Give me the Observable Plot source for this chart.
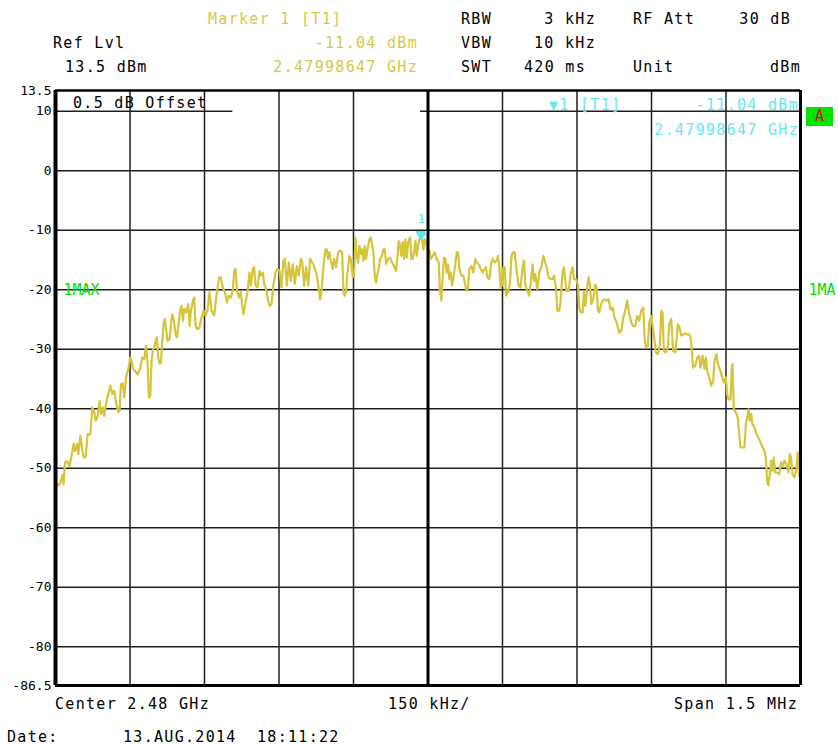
<!DOCTYPE html>
<html><head><meta charset="utf-8">
<script src="https://cdn.jsdelivr.net/npm/d3@7"></script>
<script src="https://cdn.jsdelivr.net/npm/@observablehq/plot@0.6"></script>
<style>
html,body{margin:0;padding:0;background:#fff;}
#page{position:relative;width:838px;height:746px;overflow:hidden;font-family:"DejaVu Sans Mono",monospace;}
#page svg{position:absolute;left:0;top:0;}
.t{position:absolute;white-space:pre;font-size:15px;line-height:16px;letter-spacing:1.3px;}
#abox{position:absolute;left:806px;top:107px;width:27px;height:19px;background:#00e600;color:#e00000;font-size:15px;line-height:19px;text-align:center;font-family:"DejaVu Sans Mono",monospace;}
</style></head>
<body><div id="page"></div>
<script>
// ---- data ----
const centerGHz = 2.48;
const spanKHz = 1500;
const xDomain = [-750, 750];            // offset from center, kHz
const yDomain = [-86.5, 13.5];          // dBm
const yTicks = [13.5, 10, 0, -10, -20, -30, -40, -50, -60, -70, -80, -86.5];
const vGrid = [-600, -450, -300, -150, 150, 300, 450, 600];
const hGrid = [0, -10, -20, -30, -40, -50, -60, -70, -80];
const topGridSegments = [{y: 10, x1: -750, x2: -393}, {y: 10, x1: -15, x2: 750}];
const markerFreq = [-13.53];
const markerLevel = [-11.04];
const traceLabels = ["1MAX", "1MA"];

// trace 1 (max hold): [offset kHz, level dBm]
const tracePoints = [
[-749.7,-52.1],[-745.6,-52.9],[-740.3,-52.5],[-735.6,-51.0],[-733.6,-52.7],[-730.9,-49.0],[-726.9,-48.8],[-722.2,-49.6],[-717.5,-47.9],[-713.4,-45.8],[-710.7,-47.1],[-706.7,-45.9],[-704.0,-47.6],[-700.0,-44.5],[-696.7,-46.5],[-693.3,-48.2],[-689.3,-48.1],[-685.3,-44.3],[-679.9,-44.3],[-675.9,-39.8],[-671.8,-40.6],[-669.2,-42.0],[-665.1,-41.2],[-661.1,-38.7],[-658.4,-40.9],[-654.4,-39.8],[-651.7,-41.2],[-648.4,-39.2],[-643.7,-37.5],[-639.7,-36.1],[-635.6,-37.5],[-631.6,-37.0],[-627.6,-39.2],[-623.5,-40.6],[-620.9,-40.3],[-618.2,-35.9],[-614.8,-35.7],[-611.5,-38.1],[-607.5,-34.5],[-603.4,-33.3],[-599.4,-31.4],[-596.7,-31.9],[-594.1,-33.3],[-590.0,-33.6],[-584.7,-34.2],[-579.3,-33.1],[-575.3,-31.4],[-571.3,-31.7],[-567.9,-29.4],[-564.5,-32.5],[-561.9,-38.1],[-559.2,-37.8],[-556.5,-31.9],[-553.8,-30.0],[-551.1,-29.7],[-548.5,-28.6],[-545.8,-28.0],[-543.1,-31.4],[-540.4,-32.4],[-537.7,-32.2],[-535.0,-28.6],[-532.3,-25.5],[-529.7,-24.9],[-527.0,-26.9],[-524.3,-28.6],[-520.3,-28.3],[-517.6,-25.8],[-514.9,-24.1],[-512.2,-24.9],[-508.2,-27.5],[-505.5,-28.0],[-501.5,-25.2],[-498.8,-23.2],[-496.1,-22.7],[-493.5,-25.2],[-490.8,-23.2],[-486.8,-23.8],[-482.7,-22.4],[-480.0,-26.1],[-477.4,-23.5],[-473.3,-21.9],[-470.7,-21.3],[-468.0,-26.1],[-464.0,-26.6],[-459.9,-26.3],[-455.9,-24.6],[-451.9,-23.5],
[-447.9,-24.3],[-443.9,-23.5],[-439.9,-20.4],[-435.8,-23.5],[-430.5,-24.3],[-425.1,-20.4],[-420.4,-17.9],[-417.1,-17.9],[-413.0,-19.6],[-409.0,-20.4],[-405.0,-22.1],[-401.0,-21.0],[-396.9,-21.3],[-392.9,-19.9],[-390.2,-16.8],[-387.5,-16.5],[-384.9,-19.9],[-380.8,-21.3],[-376.8,-20.4],[-374.1,-22.7],[-371.5,-24.1],[-367.4,-22.1],[-363.4,-20.4],[-359.4,-17.1],[-356.7,-19.3],[-352.7,-16.5],[-350.0,-16.2],[-347.3,-19.3],[-343.3,-19.6],[-339.3,-16.8],[-336.6,-17.6],[-332.5,-17.1],[-329.9,-19.0],[-325.8,-19.9],[-323.2,-21.3],[-319.1,-22.7],[-315.1,-22.4],[-311.1,-19.0],[-307.1,-17.1],[-303.0,-16.5],[-299.0,-16.8],[-295.0,-19.6],[-291.0,-15.1],[-288.3,-14.8],[-284.3,-19.3],[-280.2,-15.4],[-276.2,-18.5],[-272.2,-15.7],[-268.2,-19.0],[-264.1,-16.0],[-260.1,-17.6],[-256.1,-14.8],[-253.4,-15.1],[-249.4,-19.3],[-245.4,-16.2],[-241.3,-19.3],[-237.3,-14.8],[-233.3,-15.4],[-229.3,-16.0],[-225.2,-17.1],[-221.2,-19.0],[-217.2,-21.6],[-214.5,-20.4],[-210.5,-16.0],[-206.5,-13.2],[-203.8,-13.2],[-201.1,-14.8],[-198.4,-13.7],[-195.7,-15.1],[-191.7,-16.5],[-189.0,-14.8],[-185.0,-16.2],[-181.0,-13.7],[-176.9,-13.4],[-172.9,-13.7],[-170.2,-20.4],[-167.5,-21.0],[-164.9,-20.2],[-162.2,-17.1],[-158.2,-14.3],[-155.5,-14.8],[-151.5,-17.9],[-148.8,-17.6],[-146.1,-11.3],
[-143.4,-14.3],[-140.7,-15.4],[-138.1,-12.6],[-135.4,-14.0],[-132.7,-13.2],[-130.0,-15.1],[-127.3,-12.6],[-124.6,-14.8],[-122.0,-13.2],[-117.9,-11.5],[-115.3,-11.2],[-112.6,-12.3],[-109.9,-13.7],[-107.2,-17.6],[-104.5,-18.8],[-101.8,-17.4],[-99.2,-16.5],[-96.5,-14.8],[-92.5,-14.3],[-89.8,-13.2],[-87.1,-13.2],[-84.4,-15.7],[-80.4,-14.8],[-76.4,-14.6],[-72.3,-15.4],[-68.3,-16.0],[-64.3,-16.8],[-61.6,-14.6],[-58.9,-11.8],[-56.2,-12.6],[-53.6,-14.3],[-50.9,-12.0],[-48.2,-14.8],[-45.5,-11.5],[-42.8,-14.6],[-40.1,-12.0],[-36.1,-11.2],[-33.4,-14.8],[-30.7,-14.8],[-28.1,-13.7],[-25.4,-11.8],[-22.7,-14.3],[-20.0,-12.6],[-17.3,-11.5],[-13.5,-11.04],[-12.0,-11.5],[-9.3,-13.2],[-6.6,-11.5],[-3.9,-12.0],[-1.2,-13.2],[2.8,-13.4],[5.5,-14.8],[9.5,-14.3],[13.5,-13.7],[17.5,-14.8],[21.6,-15.4],[24.2,-20.4],[26.9,-21.8],[29.6,-17.6],[32.3,-14.6],[35.0,-14.8],[37.7,-17.1],[40.3,-15.7],[43.0,-18.2],[45.7,-17.1],[48.4,-19.3],[51.1,-17.9],[53.8,-16.5],[57.8,-13.7],[60.5,-13.7],[63.1,-16.5],[67.2,-17.6],[71.2,-17.6],[75.2,-19.3],[77.9,-20.2],[80.6,-19.6],[83.3,-16.5],[87.3,-16.0],[91.3,-17.1],[95.3,-14.8],[98.0,-15.4],[102.1,-15.7],[106.1,-16.5],[110.1,-17.1],[114.1,-16.5],[116.8,-16.2],[119.5,-17.9],[123.5,-18.2],[127.5,-15.4],[130.2,-14.8],[134.2,-15.4],[138.3,-15.1],[140.9,-14.3],[143.6,-16.2],[146.3,-19.6],[149.0,-19.3],[151.7,-16.2],[154.4,-16.2],[157.0,-21.0],[161.1,-20.4],[165.1,-19.0],
[167.8,-14.6],[170.4,-13.7],[174.5,-13.7],[178.5,-16.8],[182.5,-19.3],[186.5,-19.6],[190.6,-16.0],[193.3,-15.1],[195.9,-19.1],[200.0,-20.2],[204.0,-21.0],[208.0,-17.9],[210.7,-15.7],[213.4,-18.5],[216.1,-17.4],[220.1,-19.9],[224.1,-17.1],[228.1,-16.2],[232.2,-14.3],[234.8,-15.1],[238.9,-16.2],[242.9,-17.9],[246.9,-18.2],[250.9,-18.2],[253.6,-17.6],[257.6,-19.6],[260.3,-23.5],[264.3,-23.5],[267.0,-21.8],[271.1,-16.8],[273.7,-16.2],[276.4,-18.5],[279.1,-20.2],[283.1,-20.2],[287.2,-17.4],[291.2,-16.2],[293.9,-18.2],[297.9,-18.2],[301.9,-19.1],[304.6,-23.0],[307.3,-23.8],[311.3,-23.8],[314.0,-20.2],[316.7,-22.7],[320.7,-19.6],[323.4,-17.9],[326.1,-19.1],[328.7,-22.4],[332.8,-21.6],[336.8,-19.1],[339.5,-19.6],[342.1,-23.5],[344.8,-23.8],[347.5,-22.7],[351.5,-21.8],[355.6,-21.6],[359.6,-21.8],[363.6,-21.6],[367.6,-23.3],[371.7,-23.0],[375.7,-24.7],[379.7,-25.5],[385.1,-27.2],[389.1,-26.9],[393.1,-24.7],[397.1,-23.5],[401.2,-21.8],[405.2,-24.1],[409.2,-25.5],[413.2,-26.1],[417.3,-26.1],[421.3,-24.4],[425.3,-25.2],[429.3,-23.5],[433.4,-23.0],[436.0,-28.0],[438.7,-29.7],[442.7,-29.4],[445.4,-25.5],[449.5,-24.4],[453.5,-26.9],[456.2,-28.6],
[458.8,-30.5],[462.9,-30.8],[466.9,-29.4],[469.6,-23.5],[472.2,-23.8],[474.9,-30.3],[478.9,-30.5],[483.0,-29.7],[485.7,-25.8],[489.7,-24.9],[493.7,-30.3],[497.7,-30.5],[500.4,-28.6],[503.1,-25.8],[505.8,-26.1],[509.8,-27.7],[513.8,-27.5],[517.9,-27.3],[521.9,-27.5],[525.9,-27.5],[528.6,-28.0],[531.3,-30.3],[533.9,-33.1],[538.0,-32.8],[542.0,-31.4],[546.0,-31.1],[548.7,-33.1],[552.7,-31.1],[556.8,-33.3],[559.4,-31.4],[562.1,-33.6],[566.1,-34.7],[570.2,-36.1],[574.2,-35.3],[576.9,-31.9],[580.9,-30.8],[583.6,-32.5],[587.6,-33.3],[591.6,-34.5],[595.7,-35.6],[599.7,-34.7],[602.4,-37.5],[605.0,-38.4],[609.1,-38.4],[611.7,-33.1],[613.1,-32.5],[615.8,-40.1],[619.8,-40.6],[623.8,-41.5],[626.5,-44.3],[629.2,-46.5],[633.2,-46.5],[637.2,-46.5],[639.9,-42.6],[642.6,-41.5],[645.3,-40.1],[648.0,-42.0],[650.7,-40.9],[653.3,-42.6],[657.4,-43.1],[661.4,-44.3],[666.8,-45.1],[672.1,-46.2],[677.5,-47.1],[680.2,-48.2],[682.8,-52.1],[685.5,-52.9],[688.2,-51.0],[690.9,-48.7],[693.6,-50.4],[696.3,-48.2],[698.9,-50.7],[703.0,-50.7],[707.0,-51.0],[711.0,-49.0],[715.1,-49.6],[717.7,-48.7],[721.8,-49.3],[725.8,-50.7],[728.4,-47.6],[731.1,-48.2],[733.8,-51.0],[737.8,-51.5],[741.8,-50.1],[744.5,-47.3],[747.2,-51.3]
];

// header / footer texts
const headerLeft = [
  {text: "Ref Lvl", x: 53, y: 43, anchor: "start", color: "#000"},
  {text: "13.5 dBm", x: 65, y: 67, anchor: "start", color: "#000"}
];
const markerInfo = [
  {text: "Marker 1 [T1]", x: 208, y: 19, anchor: "start", color: "#d6c84a"},
  {text: "-11.04 dBm", x: 418, y: 43, anchor: "end", color: "#d6c84a"},
  {text: "2.47998647 GHz", x: 418, y: 67, anchor: "end", color: "#d6c84a"}
];
const settings = [
  {text: "RBW", x: 461, y: 19, anchor: "start", color: "#000"},
  {text: "3 kHz", x: 596, y: 19, anchor: "end", color: "#000"},
  {text: "RF Att", x: 633, y: 19, anchor: "start", color: "#000"},
  {text: "30 dB", x: 791, y: 19, anchor: "end", color: "#000"},
  {text: "VBW", x: 461, y: 43, anchor: "start", color: "#000"},
  {text: "10 kHz", x: 596, y: 43, anchor: "end", color: "#000"},
  {text: "SWT", x: 461, y: 67, anchor: "start", color: "#000"},
  {text: "420 ms", x: 586, y: 67, anchor: "end", color: "#000"},
  {text: "Unit", x: 633, y: 67, anchor: "start", color: "#000"},
  {text: "dBm", x: 801, y: 67, anchor: "end", color: "#000"}
];
const inPlotTexts = [
  {text: "0.5 dB Offset", x: 73, y: 103, anchor: "start", color: "#000"},
  {text: "\u25BC1 [T1]", x: 549, y: 105, anchor: "start", color: "#66e8f0"},
  {text: "-11.04 dBm", x: 799, y: 105, anchor: "end", color: "#66e8f0"},
  {text: "2.47998647 GHz", x: 799, y: 130, anchor: "end", color: "#66e8f0"}
];
const footer = [
  {text: "Center 2.48 GHz", x: 55, y: 704, anchor: "start", color: "#000"},
  {text: "150 kHz/", x: 388, y: 704, anchor: "start", color: "#000"},
  {text: "Span 1.5 MHz", x: 798, y: 704, anchor: "end", color: "#000"},
  {text: "Date:", x: 7, y: 737, anchor: "start", color: "#000"},
  {text: "13.AUG.2014", x: 123, y: 737, anchor: "start", color: "#000"},
  {text: "18:11:22", x: 257, y: 737, anchor: "start", color: "#000"}
];

// ---- drawing ----
const traceColor = "#d6c43a";
const cyan = "#5fe6ee";
const green = "#00e000";
const gridColor = "#1e1e1e";

const chart = Plot.plot({
  width: 838,
  height: 746,
  marginLeft: 55,
  marginRight: 38,
  marginTop: 90,
  marginBottom: 61,
  x: {domain: xDomain, axis: null},
  y: {domain: yDomain, axis: null},
  style: {background: "transparent", fontFamily: "DejaVu Sans Mono, monospace", fontSize: "13px", color: "#000", overflow: "visible"},
  marks: [
    Plot.ruleX(vGrid, {stroke: gridColor, strokeWidth: 1.5}),
    Plot.ruleY(hGrid, {stroke: gridColor, strokeWidth: 1.5}),
    Plot.ruleY(topGridSegments, {y: "y", x1: "x1", x2: "x2", stroke: gridColor, strokeWidth: 1.5}),
    Plot.line(tracePoints, {x: d => d[0], y: d => d[1], stroke: traceColor, strokeWidth: 2.2, strokeLinejoin: "round", clip: true}),
    Plot.ruleX([0], {stroke: "#000", strokeWidth: 3}),
    Plot.ruleX([xDomain[0]], {stroke: "#000", strokeWidth: 4}),
    Plot.ruleX([xDomain[1]], {stroke: "#000", strokeWidth: 3}),
    Plot.ruleY([yDomain[1]], {stroke: "#000", strokeWidth: 2.5}),
    Plot.ruleY([yDomain[0]], {stroke: "#000", strokeWidth: 3}),
    Plot.axisY({ticks: yTicks, tickSize: 0, tickPadding: 4, tickFormat: d => String(d), fontSize: 13, fill: "#000", label: null}),
    Plot.text([traceLabels[0]], {x: xDomain[0], y: -20, dx: 8, textAnchor: "start", fill: green, fontSize: 15}),
    Plot.text([traceLabels[1]], {x: xDomain[1], y: -20, dx: 8, textAnchor: "start", fill: green, fontSize: 15}),
    Plot.dot(markerFreq, {x: d => d, y: markerLevel[0], symbol: "triangle", rotate: 180, r: 4.5, fill: cyan, stroke: null, dy: -2}),
    Plot.text(markerFreq, {x: d => d, y: markerLevel[0], text: () => "1", dy: -18, fill: cyan, fontSize: 13})
  ]
});

const page = document.getElementById("page");
page.appendChild(chart);

function addTexts(list) {
  for (const d of list) {
    const el = document.createElement("div");
    el.className = "t";
    el.textContent = d.text;
    el.style.color = d.color;
    el.style.top = (d.y - 8) + "px";
    if (d.anchor === "end") el.style.right = (838 - d.x) + "px";
    else el.style.left = d.x + "px";
    page.appendChild(el);
  }
}
addTexts(headerLeft);
addTexts(markerInfo);
addTexts(settings);
addTexts(inPlotTexts);
addTexts(footer);

const abox = document.createElement("div");
abox.id = "abox";
abox.textContent = "A";
page.appendChild(abox);
</script>
</body></html>
